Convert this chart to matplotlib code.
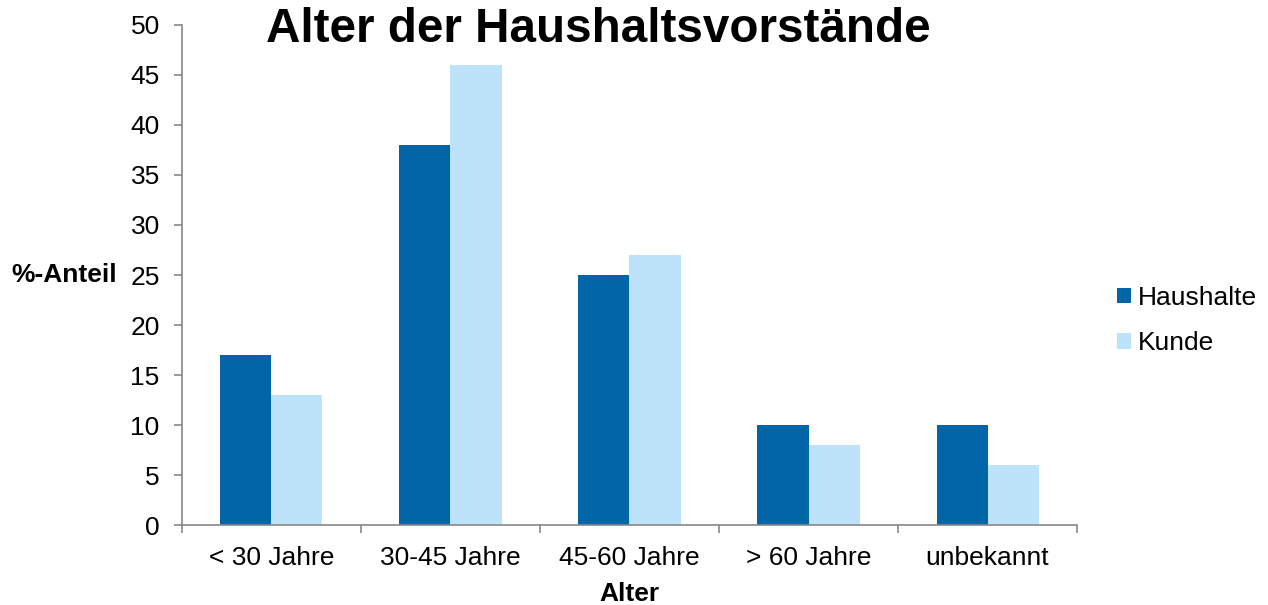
import matplotlib
matplotlib.use('Agg')
import matplotlib.pyplot as plt
import numpy as np

categories = ['< 30 Jahre', '30-45 Jahre', '45-60 Jahre', '> 60 Jahre', 'unbekannt']
haushalte = [17, 38, 25, 10, 10]
kunde = [13, 46, 27, 8, 6]

plt.rcParams['font.family'] = ['Liberation Sans', 'DejaVu Sans']

fig = plt.figure(figsize=(12.68, 6.05), dpi=100)
ax = fig.add_axes([0.1435, 0.1322, 0.7059, 0.8265])

x = np.arange(len(categories))
w = 0.285
ax.bar(x - w / 2, haushalte, w, color='#0066A8', label='Haushalte')
ax.bar(x + w / 2, kunde, w, color='#BDE3FB', label='Kunde')

ax.set_xlim(-0.5, len(categories) - 0.5)
ax.set_ylim(0, 50)
ax.set_yticks(range(0, 51, 5))
ax.set_xticks(x)
ax.set_xticklabels(categories)
ax.set_xticks(np.arange(-0.5, len(categories), 1), minor=True)
ax.tick_params(axis='x', which='major', length=0, labelsize=19, pad=15)
ax.tick_params(axis='x', which='minor', length=6, color='#888888', width=1.2)
ax.tick_params(axis='y', length=6, color='#888888', width=1.2, labelsize=19, pad=10)

for s in ['top', 'right']:
    ax.spines[s].set_visible(False)
for s in ['left', 'bottom']:
    ax.spines[s].set_color('#888888')
    ax.spines[s].set_linewidth(1.2)

ax.set_xlabel('Alter', fontsize=19, fontweight='bold', labelpad=9)
ax.set_ylabel('%-Anteil', fontsize=19, fontweight='bold', rotation=0,
              ha='right', va='center')
ax.yaxis.set_label_coords(-0.073, 0.5)

fig.text(0.472, 0.952, 'Alter der Haushaltsvorstände', fontsize=34.3,
         fontweight='bold', ha='center', va='center')

fig.legend(loc='center left', bbox_to_anchor=(0.862, 0.47), frameon=False,
           fontsize=19, handlelength=0.55, handleheight=0.55, handletextpad=0.25,
           labelspacing=0.82)

fig.savefig('out.png', dpi=100)
